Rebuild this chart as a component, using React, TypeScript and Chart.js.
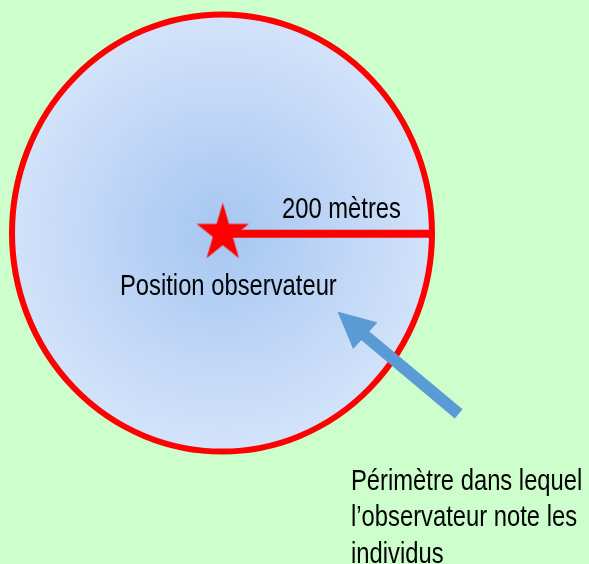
import { useEffect, useRef } from "react";
import { Chart, registerables } from "chart.js";

Chart.register(...registerables);

const W = 589;
const H = 564;

// Diagram data (units = pixels of the original figure, y downward)
const circleCenter = { x: 222, y: 233 };
const circleRadii = { x: 210, y: 218.5 };
const observerPoint = [{ x: 222.8, y: 233.4 }];
const radiusLine = [
  { x: 222, y: 233.8 },
  { x: 432, y: 233.8 },
];
const arrowShaft = [
  { x: 458.7, y: 413.8 },
  { x: 362, y: 333 },
];
const arrowHead = [
  { x: 338.3, y: 312.3 },
  { x: 376.7, y: 322.7 },
  { x: 353.3, y: 348.3 },
  { x: 338.3, y: 312.3 },
];
const labelTexts = [
  "200 mètres",
  "Position observateur",
  "Périmètre dans lequel",
  "l’observateur note les",
  "individus",
];
const labelX = [282, 120, 351, 351, 351];
const labelY = [218.3, 295, 489.5, 526, 562.5];

const RED = "#ff0000";
const BLUE = "#5b9bd5";

function makeStar(rx: number, ry: number) {
  const c = document.createElement("canvas");
  c.width = Math.ceil(rx * 2) + 2;
  c.height = Math.ceil(ry * 2) + 2;
  const g = c.getContext("2d")!;
  const cx = c.width / 2;
  const cy = c.height / 2;
  g.beginPath();
  for (let i = 0; i < 10; i++) {
    const r = i % 2 === 0 ? 1 : 0.382;
    const a = -Math.PI / 2 + (i * Math.PI) / 5;
    g.lineTo(cx + Math.cos(a) * r * rx, cy + Math.sin(a) * r * ry);
  }
  g.closePath();
  g.fillStyle = RED;
  g.fill();
  return c;
}

const backgroundPlugin = {
  id: "bg",
  beforeDraw(chart: any) {
    const { ctx } = chart;
    ctx.save();
    ctx.fillStyle = "#ccffcc";
    ctx.fillRect(0, 0, chart.width, chart.height);
    ctx.restore();
  },
};

const perimeterPlugin = {
  id: "perimeter",
  beforeDatasetsDraw(chart: any) {
    const { ctx } = chart;
    const xs = chart.scales.x;
    const ys = chart.scales.y;
    const cx = xs.getPixelForValue(circleCenter.x);
    const cy = ys.getPixelForValue(circleCenter.y);
    const rx = Math.abs(xs.getPixelForValue(circleCenter.x + circleRadii.x) - cx);
    const ry = Math.abs(ys.getPixelForValue(circleCenter.y + circleRadii.y) - cy);
    ctx.save();
    ctx.beginPath();
    ctx.ellipse(cx, cy, rx, ry, 0, 0, Math.PI * 2);
    const g = ctx.createRadialGradient(cx, cy, 0, cx, cy, Math.max(rx, ry));
    g.addColorStop(0, "#a6c6f1");
    g.addColorStop(1, "#d3e3fa");
    ctx.fillStyle = g;
    ctx.fill();
    ctx.lineWidth = 6;
    ctx.strokeStyle = RED;
    ctx.stroke();
    ctx.restore();
  },
};

const labelPlugin = {
  id: "labels",
  afterDatasetsDraw(chart: any) {
    const { ctx } = chart;
    const xs = chart.scales.x;
    const ys = chart.scales.y;
    labelTexts.forEach((t, i) => {
      ctx.save();
      ctx.translate(xs.getPixelForValue(labelX[i]), ys.getPixelForValue(labelY[i]));
      ctx.scale(0.82, 1);
      ctx.font = '29px "Liberation Sans", Arial, sans-serif';
      ctx.fillStyle = "#000000";
      ctx.textBaseline = "alphabetic";
      ctx.textAlign = "left";
      ctx.fillText(t, 0, 0);
      ctx.restore();
    });
  },
};

export default function App() {
  const ref = useRef<HTMLCanvasElement | null>(null);
  useEffect(() => {
    if (!ref.current) return;
    const star = makeStar(27.5, 30.7);
    const chart = new Chart(ref.current, {
      type: "scatter",
      data: {
        datasets: [
          {
            data: radiusLine,
            showLine: true,
            borderColor: RED,
            borderWidth: 8,
            pointRadius: 0,
            borderCapStyle: "butt",
            clip: false,
          } as any,
          {
            data: observerPoint,
            pointStyle: star as any,
            pointRadius: 30,
            clip: false,
          } as any,
          {
            data: arrowShaft,
            showLine: true,
            borderColor: BLUE,
            borderWidth: 12,
            pointRadius: 0,
            borderCapStyle: "butt",
            clip: false,
          } as any,
          {
            data: arrowHead,
            showLine: true,
            borderColor: BLUE,
            borderWidth: 1,
            backgroundColor: BLUE,
            fill: "shape",
            pointRadius: 0,
            tension: 0,
            clip: false,
          } as any,
        ],
      },
      options: {
        animation: false,
        responsive: false,
        maintainAspectRatio: false,
        events: [],
        layout: { padding: 0, autoPadding: false },
        plugins: {
          legend: { display: false },
          tooltip: { enabled: false },
        },
        scales: {
          x: { type: "linear", min: 0, max: W, display: false },
          y: { type: "linear", min: 0, max: H, reverse: true, display: false },
        },
      },
      plugins: [backgroundPlugin, perimeterPlugin, labelPlugin],
    });
    return () => chart.destroy();
  }, []);
  return (
    <div style={{ position: "absolute", left: 0, top: 0, width: W, height: H, background: "#ccffcc" }}>
      <canvas ref={ref} width={W} height={H} style={{ display: "block", width: W, height: H }} />
    </div>
  );
}
